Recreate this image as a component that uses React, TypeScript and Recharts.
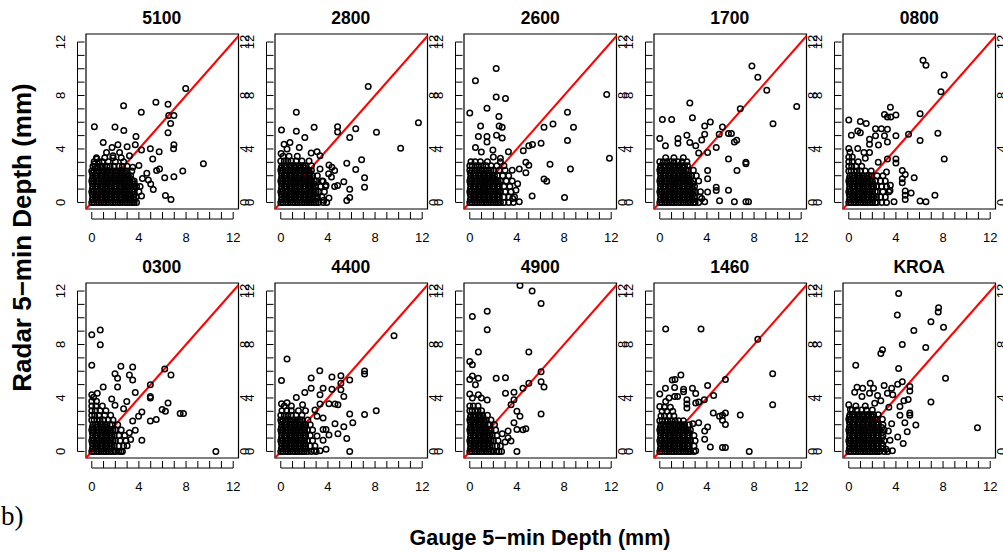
import { ScatterChart, Scatter, XAxis, YAxis, ReferenceLine, ReferenceArea } from "recharts";

type Row = [number, number[]];
type Pair = [number, number];

// dense cores are written as rows: [radar depth, gauge depths...]
const core5100: Row[] = [
  [0.0, [0, 0.2, 0.45, 0.6, 0.8, 1.05, 1.2, 1.4, 1.65, 1.8, 2, 2.25, 2.4, 2.6, 2.85, 3, 3.2, 3.45, 3.6, 3.8]],
  [0.2, [0.05, 0.4, 0.85, 1.25, 1.6, 2.05, 2.45, 2.8, 3.25, 3.6]],
  [0.4, [0.1, 0.3, 0.5, 0.75, 0.9, 1.1, 1.3, 1.55, 1.7, 1.9, 2.1, 2.35, 2.5, 2.7, 2.95, 3.1, 3.3, 3.55, 3.75]],
  [0.6, [0.05, 0.4, 0.85, 1.25, 1.6, 2.05, 2.45, 2.8, 3.25, 3.6]],
  [0.8, [0, 0.2, 0.45, 0.6, 0.8, 1.05, 1.2, 1.4, 1.65, 1.8, 2, 2.25, 2.4, 2.6, 2.85, 3, 3.2, 3.45, 3.6]],
  [1.0, [0.05, 0.4, 0.85, 1.25, 1.6, 2.05, 2.45, 2.8, 3.25, 3.6]],
  [1.2, [0.1, 0.3, 0.5, 0.75, 0.9, 1.1, 1.3, 1.55, 1.7, 1.9, 2.1, 2.35, 2.5, 2.7, 2.95, 3.1, 3.3, 3.55, 3.8]],
  [1.4, [0.05, 0.4, 0.85, 1.25, 1.6, 2.05, 2.45, 2.8, 3.25, 3.6]],
  [1.6, [0, 0.2, 0.45, 0.6, 0.8, 1.05, 1.2, 1.4, 1.65, 1.8, 2, 2.25, 2.4, 2.6, 2.85, 3, 3.2, 3.45, 3.6]],
  [1.8, [0.05, 0.4, 0.85, 1.25, 1.6, 2.05, 2.45, 2.8, 3.25]],
  [2.0, [0.1, 0.3, 0.5, 0.75, 0.9, 1.1, 1.3, 1.55, 1.7, 1.9, 2.1, 2.35, 2.5, 2.7, 2.95, 3.1, 3.3]],
  [2.2, [0.05, 0.4, 0.85, 1.25, 1.6, 2.05, 2.45, 2.8]],
  [2.35, [0, 0.2, 0.45, 0.6, 0.8, 1.05, 1.2, 1.4, 1.65, 1.8, 2, 2.25, 2.4, 2.6, 2.85, 3, 3.4]],
  [2.7, [0.1, 0.3, 0.5, 0.75, 0.9, 1.1, 1.3, 1.55, 1.9, 2.3, 2.6, 3.0]],
  [3.05, [0.2, 0.6, 0.9, 1.4, 2.0, 2.7]],
  [3.35, [0.4, 1.1, 1.8, 2.5]],
];
const spread5100: Pair[] = [
  [0.22, 5.67], [2.7, 7.24], [4.2, 6.75], [1.97, 5.64], [2.72, 5.39], [5.44, 7.5], [6.47, 7.34],
  [7.97, 8.52], [6.53, 6.5], [6.97, 6.5], [6.69, 5.9], [6.47, 5.22], [6.97, 4.31], [6.94, 4.01],
  [9.47, 2.9], [7.72, 2.36], [6.97, 1.92], [6.19, 1.85], [6.25, 0.52], [6.72, 0.22], [4.22, 0.49],
  [5.72, 3.79], [5.17, 3.25], [4.97, 4.01], [4.22, 3.92], [3.75, 4.93], [3.69, 4.31], [3.0, 4.16],
  [2.22, 4.31], [1.72, 4.11], [0.97, 4.48], [5.5, 2.39], [5.75, 2.51], [4.67, 2.19], [4.8, 1.67],
  [5.0, 1.38], [5.22, 0.96], [3.47, 2.64], [3.2, 3.5], [4.0, 2.76], [0.22, 2.88], [0.42, 3.25],
  [1.25, 3.74], [2.36, 3.74], [1.8, 3.5], [4.1, 1.2], [4.3, 1.8], [4.0, 0.8],
];

const core2800: Row[] = [
  [0.0, [0, 0.2, 0.45, 0.6, 0.8, 1.05, 1.2, 1.4, 1.65, 1.8, 2, 2.25, 2.4, 2.6, 2.85, 3, 3.2, 3.6, 3.9]],
  [0.2, [0.05, 0.4, 0.85, 1.25, 1.6, 2.05, 2.45, 2.8]],
  [0.4, [0.1, 0.3, 0.5, 0.75, 0.9, 1.1, 1.3, 1.55, 1.7, 1.9, 2.1, 2.35, 2.5, 2.7, 2.95, 3.1, 3.5]],
  [0.6, [0.05, 0.4, 0.85, 1.25, 1.6, 2.05, 2.45, 2.8]],
  [0.8, [0, 0.2, 0.45, 0.6, 0.8, 1.05, 1.2, 1.4, 1.65, 1.8, 2, 2.25, 2.4, 2.6, 2.85, 3, 3.2, 3.7]],
  [1.0, [0.05, 0.4, 0.85, 1.25, 1.6, 2.05, 2.45, 2.8]],
  [1.2, [0.1, 0.3, 0.5, 0.75, 0.9, 1.1, 1.3, 1.55, 1.7, 1.9, 2.1, 2.35, 2.5, 2.7, 2.95, 3.4, 3.8]],
  [1.4, [0.05, 0.4, 0.85, 1.25, 1.6, 2.05, 2.45, 2.8]],
  [1.6, [0, 0.2, 0.45, 0.6, 0.8, 1.05, 1.2, 1.4, 1.65, 1.8, 2, 2.25, 2.4, 2.6, 2.85, 3, 3.5]],
  [1.8, [0.05, 0.4, 0.85, 1.25, 1.6, 2.05, 2.45]],
  [2.0, [0.1, 0.3, 0.5, 0.75, 0.9, 1.1, 1.3, 1.55, 1.7, 1.9, 2.1, 2.35, 2.5, 2.7, 3.1]],
  [2.2, [0.05, 0.4, 0.85, 1.25, 1.6, 2.05, 2.45]],
  [2.4, [0, 0.2, 0.45, 0.6, 0.8, 1.05, 1.2, 1.4, 1.65, 1.8, 2, 2.25, 2.4, 2.6]],
  [2.6, [0.05, 0.4, 0.85, 1.25, 1.6, 2.05]],
  [2.75, [0.1, 0.3, 0.5, 0.75, 0.9, 1.1, 1.3, 1.55, 1.7, 1.9, 2.1, 2.6]],
  [3.1, [0, 0.3, 0.6, 0.9, 1.3, 1.8, 2.4]],
  [3.45, [0.2, 0.7, 1.4]],
];
const spread2800: Pair[] = [
  [7.42, 8.67], [11.68, 5.96], [10.17, 4.06], [8.12, 5.25], [1.32, 6.75], [0.06, 5.42], [1.32, 5.32],
  [2.83, 5.62], [2.04, 4.85], [4.82, 5.67], [4.82, 5.27], [6.36, 5.52], [5.85, 4.85], [6.86, 3.2],
  [5.6, 2.93], [6.36, 2.46], [7.11, 1.85], [7.11, 1.13], [5.85, 0.99], [5.85, 0.37], [5.6, 0.15],
  [5.35, 1.55], [4.82, 1.26], [4.57, 1.2], [4.09, 0.34], [4.09, 2.8], [4.34, 2.64], [4.57, 2.39],
  [4.06, 2.14], [0.03, 3.67], [0.28, 4.36], [0.78, 4.48], [0.53, 3.99], [1.57, 4.11], [2.58, 3.69],
  [3.08, 3.79], [3.33, 3.5], [3.33, 2.51], [3.59, 1.58], [3.84, 1.28], [3.08, 0.3], [3.64, 0.17],
  [2.38, 0.17], [4.3, 1.9],
];

const core2600: Row[] = [
  [0.0, [0, 0.2, 0.45, 0.6, 0.8, 1.05, 1.2, 1.4, 1.65, 1.8, 2, 2.25, 2.4, 2.6, 2.9, 3.3, 3.7]],
  [0.2, [0.05, 0.4, 0.85, 1.25, 1.6, 2.05, 2.45]],
  [0.4, [0.1, 0.3, 0.5, 0.75, 0.9, 1.1, 1.3, 1.55, 1.7, 1.9, 2.1, 2.35, 2.5, 2.9, 3.3, 3.8]],
  [0.6, [0.05, 0.4, 0.85, 1.25, 1.6, 2.05, 2.45]],
  [0.8, [0, 0.2, 0.45, 0.6, 0.8, 1.05, 1.2, 1.4, 1.65, 1.8, 2, 2.25, 2.4, 2.6, 3.0, 3.5]],
  [1.0, [0.05, 0.4, 0.85, 1.25, 1.6, 2.05, 2.45]],
  [1.2, [0.1, 0.3, 0.5, 0.75, 0.9, 1.1, 1.3, 1.55, 1.7, 1.9, 2.1, 2.35, 2.5, 2.9, 3.4]],
  [1.4, [0.05, 0.4, 0.85, 1.25, 1.6, 2.05, 2.45]],
  [1.6, [0, 0.2, 0.45, 0.6, 0.8, 1.05, 1.2, 1.4, 1.65, 1.8, 2, 2.25, 2.4, 2.6, 3.1, 3.6]],
  [1.8, [0.05, 0.4, 0.85, 1.25, 1.6, 2.05]],
  [2.0, [0.1, 0.3, 0.5, 0.75, 0.9, 1.1, 1.3, 1.55, 1.7, 1.9, 2.1, 2.35, 2.8, 3.3]],
  [2.2, [0.05, 0.4, 0.85, 1.25, 1.6]],
  [2.4, [0, 0.2, 0.45, 0.6, 0.8, 1.05, 1.2, 1.4, 1.65, 1.8, 2, 2.5, 3.0, 3.6]],
  [2.75, [0, 0.2, 0.5, 0.8, 1.1, 1.4, 1.8, 2.3, 2.9]],
  [3.05, [0.1, 0.45, 0.9, 1.5, 2.6]],
];
const spread2600: Pair[] = [
  [2.24, 10.02], [0.48, 9.11], [0.0, 6.7], [2.24, 7.88], [3.03, 7.78], [1.46, 7.04], [2.47, 6.43],
  [0.92, 5.71], [2.49, 5.71], [2.75, 5.62], [0.73, 4.93], [1.46, 4.93], [1.46, 4.53], [2.27, 5.02],
  [2.75, 4.83], [0.48, 4.11], [0.98, 3.77], [1.96, 3.92], [3.28, 3.79], [4.54, 3.87], [5.01, 4.24],
  [5.32, 4.33], [6.05, 4.43], [6.3, 5.62], [7.06, 5.86], [8.29, 6.75], [8.8, 5.62], [8.29, 4.63],
  [11.62, 8.08], [11.85, 3.3], [8.54, 2.51], [6.81, 2.86], [6.3, 1.75], [6.53, 1.58], [5.29, 0.49],
  [8.04, 0.37], [4.76, 3.0], [5.01, 2.78], [4.76, 2.22], [4.2, 2.5], [4.06, 1.4], [3.92, 0.91],
  [4.2, 0.05], [3.64, 0.3], [2.0, 3.4], [2.6, 3.3],
];

const core1700: Row[] = [
  [0.0, [0, 0.2, 0.45, 0.6, 0.8, 1.05, 1.2, 1.4, 1.65, 1.8, 2, 2.25, 2.4, 2.6, 2.85, 3, 3.3]],
  [0.2, [0.05, 0.4, 0.85, 1.25, 1.6, 2.05, 2.45, 2.8]],
  [0.4, [0.1, 0.3, 0.5, 0.75, 0.9, 1.1, 1.3, 1.55, 1.7, 1.9, 2.1, 2.35, 2.5, 2.7, 2.95, 3.4]],
  [0.6, [0.05, 0.4, 0.85, 1.25, 1.6, 2.05, 2.45, 2.8]],
  [0.8, [0, 0.2, 0.45, 0.6, 0.8, 1.05, 1.2, 1.4, 1.65, 1.8, 2, 2.25, 2.4, 2.6, 2.85, 3, 3.45]],
  [1.0, [0.05, 0.4, 0.85, 1.25, 1.6, 2.05, 2.45, 2.8]],
  [1.2, [0.1, 0.3, 0.5, 0.75, 0.9, 1.1, 1.3, 1.55, 1.7, 1.9, 2.1, 2.35, 2.5, 2.7, 2.95]],
  [1.4, [0.05, 0.4, 0.85, 1.25, 1.6, 2.05, 2.45, 2.8]],
  [1.6, [0, 0.2, 0.45, 0.6, 0.8, 1.05, 1.2, 1.4, 1.65, 1.8, 2, 2.25, 2.4, 2.6, 2.85, 3.3]],
  [1.8, [0.05, 0.4, 0.85, 1.25, 1.6, 2.05, 2.45]],
  [2.0, [0.1, 0.3, 0.5, 0.75, 0.9, 1.1, 1.3, 1.55, 1.7, 1.9, 2.1, 2.35, 2.5, 2.7, 3.1]],
  [2.2, [0.05, 0.4, 0.85, 1.25, 1.6, 2.05]],
  [2.4, [0, 0.2, 0.45, 0.6, 0.8, 1.05, 1.2, 1.4, 1.65, 1.8, 2, 2.25, 2.4, 2.85]],
  [2.6, [0.05, 0.4, 0.85, 1.25, 1.6, 2.05]],
  [2.75, [0.1, 0.3, 0.5, 0.75, 0.9, 1.1, 1.3, 1.55, 1.7, 1.9, 2.1, 2.35]],
  [3.05, [0, 0.3, 0.6, 0.9, 1.2, 1.55, 1.9, 2.3]],
  [3.35, [0.5, 1.2, 2.0]],
];
const spread1700: Pair[] = [
  [7.82, 10.2], [8.32, 9.36], [9.08, 8.4], [11.62, 7.17], [2.55, 7.44], [6.83, 7.0], [0.22, 6.21],
  [1.01, 6.21], [2.77, 6.33], [3.81, 5.71], [4.29, 6.01], [9.61, 5.89], [5.32, 5.64], [5.04, 5.1],
  [5.83, 5.15], [6.08, 5.15], [3.81, 5.1], [2.3, 5.02], [0.0, 4.78], [1.54, 4.78], [1.54, 4.43],
  [2.55, 4.48], [0.48, 4.24], [3.56, 4.68], [3.05, 4.24], [4.79, 4.11], [6.33, 4.53], [6.53, 4.66],
  [4.06, 3.74], [3.3, 3.69], [5.83, 3.25], [7.31, 3.0], [7.31, 2.9], [6.55, 2.39], [4.06, 2.39],
  [4.06, 1.77], [4.79, 1.13], [4.79, 0.89], [5.83, 0.91], [5.07, 0.12], [6.33, 0.05], [7.31, 0.05],
  [7.53, 0.05], [3.81, 0.05], [4.06, 0.79], [3.56, 0.3],
];

const core0800: Row[] = [
  [0.0, [0, 0.2, 0.45, 0.6, 0.8, 1.05, 1.2, 1.4, 1.65, 1.8, 2, 2.25, 2.4, 2.8, 3.2]],
  [0.2, [0.05, 0.4, 0.85, 1.25, 1.6, 2.05]],
  [0.4, [0.1, 0.3, 0.5, 0.75, 0.9, 1.1, 1.3, 1.55, 1.7, 1.9, 2.1, 2.35, 2.7, 3.1]],
  [0.6, [0.05, 0.4, 0.85, 1.25, 1.6, 2.05]],
  [0.8, [0, 0.2, 0.45, 0.6, 0.8, 1.05, 1.2, 1.4, 1.65, 1.8, 2, 2.25, 2.4, 2.9, 3.4]],
  [1.0, [0.05, 0.4, 0.85, 1.25, 1.6, 2.05]],
  [1.2, [0.1, 0.3, 0.5, 0.75, 0.9, 1.1, 1.3, 1.55, 1.7, 1.9, 2.1, 2.35, 2.8, 3.2]],
  [1.4, [0.05, 0.4, 0.85, 1.25, 1.6, 2.05]],
  [1.6, [0, 0.2, 0.45, 0.6, 0.8, 1.05, 1.2, 1.4, 1.65, 1.8, 2, 2.25, 2.7, 3.1]],
  [1.8, [0.05, 0.4, 0.85, 1.25, 1.6]],
  [2.0, [0.1, 0.3, 0.5, 0.75, 0.9, 1.1, 1.3, 1.55, 1.7, 1.9, 2.4, 2.9]],
  [2.35, [0, 0.2, 0.45, 0.7, 1.0, 1.4, 1.9]],
  [2.7, [0, 0.25, 0.6, 1.1]],
  [3.05, [0, 0.3, 0.8]],
  [3.4, [0, 0.3]],
  [3.75, [0.1]],
];
const spread0800: Pair[] = [
  [6.3, 10.64], [6.55, 10.27], [8.1, 9.53], [7.82, 8.28], [3.53, 7.12], [3.03, 6.58], [3.28, 6.4],
  [3.56, 6.4], [4.0, 6.55], [6.05, 6.63], [0.0, 6.16], [0.98, 6.06], [1.48, 5.91], [0.76, 5.34],
  [0.98, 5.22], [0.22, 5.02], [2.27, 5.52], [2.77, 5.52], [3.28, 5.47], [2.27, 4.98], [3.03, 4.98],
  [4.0, 4.98], [5.07, 5.1], [7.56, 5.17], [6.05, 4.63], [3.28, 4.53], [2.52, 4.29], [1.76, 4.73],
  [1.76, 4.36], [0.0, 4.04], [0.76, 4.04], [1.29, 3.74], [1.76, 3.74], [3.28, 3.25], [4.0, 3.25],
  [4.0, 2.96], [8.1, 3.25], [4.54, 2.39], [4.79, 2.09], [5.55, 1.85], [4.54, 1.77], [4.54, 1.48],
  [4.79, 0.86], [5.29, 0.71], [4.79, 0.54], [4.79, 0.22], [3.84, 0.05], [6.05, 0.1], [6.55, 0.05],
  [7.31, 0.54], [3.53, 1.28], [3.5, 0.9], [3.2, 2.27], [2.5, 3.0], [1.4, 3.3],
];

const core0300: Row[] = [
  [0.0, [0, 0.2, 0.45, 0.6, 0.8, 1.05, 1.2, 1.4, 1.65, 1.8, 2, 2.3, 2.6]],
  [0.2, [0.05, 0.4, 0.85, 1.25, 1.6]],
  [0.4, [0.1, 0.3, 0.5, 0.75, 0.9, 1.1, 1.3, 1.55, 1.7, 1.9, 2.3, 2.7]],
  [0.6, [0.05, 0.4, 0.85, 1.25, 1.6]],
  [0.8, [0, 0.2, 0.45, 0.6, 0.8, 1.05, 1.2, 1.4, 1.65, 1.8, 2, 2.4, 2.9]],
  [1.0, [0.05, 0.4, 0.85, 1.25, 1.6]],
  [1.2, [0.1, 0.3, 0.5, 0.75, 0.9, 1.1, 1.3, 1.55, 1.7, 1.9, 2.3, 2.8]],
  [1.4, [0.05, 0.4, 0.85, 1.25, 1.6]],
  [1.6, [0, 0.2, 0.45, 0.6, 0.8, 1.05, 1.2, 1.4, 1.65, 1.8, 2, 2.5]],
  [1.8, [0.05, 0.4, 0.85, 1.25]],
  [2.0, [0.1, 0.3, 0.5, 0.75, 0.9, 1.1, 1.3, 1.55, 1.7, 2.2]],
  [2.35, [0, 0.2, 0.45, 0.7, 1.0, 1.4, 1.8]],
  [2.7, [0, 0.25, 0.6, 1.1, 1.6]],
  [3.05, [0, 0.3, 0.7, 1.2]],
  [3.4, [0, 0.35, 0.9]],
  [3.75, [0, 0.4]],
  [4.05, [0.15]],
];
const spread0300: Pair[] = [
  [0.0, 8.72], [0.72, 9.09], [0.72, 7.98], [0.0, 6.45], [2.47, 6.38], [3.47, 6.31], [1.97, 5.81],
  [2.19, 5.47], [3.19, 5.71], [3.47, 5.34], [6.19, 6.16], [6.72, 5.71], [4.97, 4.98], [0.97, 4.83],
  [2.19, 4.83], [3.69, 4.41], [4.97, 4.11], [4.97, 3.99], [6.47, 3.62], [0.0, 4.24], [0.47, 4.36],
  [1.69, 3.92], [1.97, 3.45], [2.97, 3.74], [4.25, 2.96], [5.97, 3.13], [6.25, 3.0], [7.5, 2.83],
  [7.78, 2.83], [5.47, 2.39], [4.97, 2.27], [4.25, 0.84], [10.53, 0.0], [3.97, 2.64], [3.47, 2.27],
  [3.69, 1.58], [3.19, 1.4], [3.0, 0.42], [2.47, 0.0], [3.3, 0.9], [2.7, 3.2],
];

const core4400: Row[] = [
  [0.0, [0, 0.2, 0.45, 0.6, 0.8, 1.05, 1.2, 1.4, 1.65, 1.8, 2, 2.25, 2.6, 3.0]],
  [0.2, [0.05, 0.4, 0.85, 1.25, 1.6, 2.05]],
  [0.4, [0.1, 0.3, 0.5, 0.75, 0.9, 1.1, 1.3, 1.55, 1.7, 1.9, 2.1, 2.5, 2.9]],
  [0.6, [0.05, 0.4, 0.85, 1.25, 1.6, 2.05]],
  [0.8, [0, 0.2, 0.45, 0.6, 0.8, 1.05, 1.2, 1.4, 1.65, 1.8, 2, 2.25, 2.7]],
  [1.0, [0.05, 0.4, 0.85, 1.25, 1.6, 2.05]],
  [1.2, [0.1, 0.3, 0.5, 0.75, 0.9, 1.1, 1.3, 1.55, 1.7, 1.9, 2.1, 2.5]],
  [1.4, [0.05, 0.4, 0.85, 1.25, 1.6, 2.05]],
  [1.6, [0, 0.2, 0.45, 0.6, 0.8, 1.05, 1.2, 1.4, 1.65, 1.8, 2, 2.25, 2.7]],
  [1.8, [0.05, 0.4, 0.85, 1.25, 1.6, 2.05]],
  [2.0, [0.1, 0.3, 0.5, 0.75, 0.9, 1.1, 1.3, 1.55, 1.7, 1.9, 2.1, 2.5]],
  [2.2, [0.05, 0.4, 0.85, 1.25, 1.6]],
  [2.35, [0, 0.2, 0.45, 0.6, 0.8, 1.05, 1.2, 1.4, 1.65, 1.8, 2.3]],
  [2.7, [0, 0.3, 0.6, 0.9, 1.3, 1.8]],
  [3.05, [0.1, 0.5, 0.9, 1.5, 2.1]],
  [3.4, [0.3, 0.9]],
];
const spread4400: Pair[] = [
  [9.61, 8.65], [0.53, 6.92], [0.06, 5.3], [3.31, 6.03], [2.58, 5.49], [4.34, 5.57], [5.1, 5.67],
  [5.85, 5.34], [7.11, 6.01], [7.11, 5.79], [5.1, 5.1], [2.58, 4.73], [3.59, 4.73], [4.34, 4.66],
  [5.1, 4.61], [2.04, 4.41], [3.33, 4.24], [1.32, 4.04], [5.35, 4.11], [0.06, 3.57], [0.53, 3.65],
  [1.85, 3.5], [3.33, 3.55], [4.09, 3.57], [4.85, 3.5], [4.6, 3.55], [8.1, 3.05], [7.11, 2.76],
  [5.85, 2.81], [6.11, 2.14], [5.35, 1.85], [4.6, 2.07], [4.85, 1.33], [5.6, 0.96], [5.85, 0.0],
  [3.59, 1.65], [3.84, 1.65], [4.09, 1.23], [3.59, 0.84], [3.84, 0.17], [3.33, 0.05], [2.83, 0.05],
  [3.08, 1.16], [3.08, 2.64], [3.59, 2.51], [2.9, 3.1],
];

const core4900: Row[] = [
  [0.0, [0, 0.2, 0.45, 0.6, 0.8, 1.05, 1.2, 1.4, 1.65, 1.8, 2, 2.3, 2.7]],
  [0.2, [0.05, 0.4, 0.85, 1.25, 1.6]],
  [0.4, [0.1, 0.3, 0.5, 0.75, 0.9, 1.1, 1.3, 1.55, 1.7, 1.9, 2.3, 2.6]],
  [0.6, [0.05, 0.4, 0.85, 1.25, 1.6]],
  [0.8, [0, 0.2, 0.45, 0.6, 0.8, 1.05, 1.2, 1.4, 1.65, 1.8, 2, 2.4]],
  [1.0, [0.05, 0.4, 0.85, 1.25, 1.6]],
  [1.2, [0.1, 0.3, 0.5, 0.75, 0.9, 1.1, 1.3, 1.55, 1.7, 1.9, 2.3]],
  [1.4, [0.05, 0.4, 0.85, 1.25, 1.6]],
  [1.6, [0, 0.2, 0.45, 0.6, 0.8, 1.05, 1.2, 1.4, 1.65, 1.8, 2.2]],
  [1.8, [0.05, 0.4, 0.85, 1.25]],
  [2.0, [0.1, 0.3, 0.5, 0.75, 0.9, 1.1, 1.3, 1.55, 1.7, 2.1]],
  [2.2, [0.05, 0.4, 0.85, 1.25]],
  [2.35, [0, 0.2, 0.45, 0.6, 0.8, 1.05, 1.2, 1.4, 1.8]],
  [2.55, [0.05, 0.4, 0.85]],
  [2.7, [0.1, 0.3, 0.5, 0.75, 0.9, 1.1, 1.5]],
  [3.05, [0, 0.2, 0.45, 0.7, 1.0]],
  [3.4, [0, 0.3, 0.7]],
];
const spread4900: Pair[] = [
  [4.26, 12.41], [5.29, 12.0], [6.05, 11.06], [0.22, 10.1], [1.48, 10.49], [1.48, 9.11], [0.73, 7.44],
  [5.01, 7.44], [0.0, 6.72], [0.22, 6.48], [0.22, 5.64], [0.0, 5.39], [0.73, 5.47], [0.48, 4.98],
  [2.24, 5.47], [3.03, 5.52], [6.05, 5.96], [6.05, 5.22], [6.3, 4.83], [5.01, 5.1], [4.51, 4.73],
  [3.03, 4.36], [3.75, 4.43], [0.0, 4.29], [0.73, 4.24], [0.98, 3.99], [1.48, 3.84], [0.22, 3.99],
  [3.75, 3.87], [3.5, 3.5], [4.0, 3.0], [4.26, 2.64], [6.05, 2.81], [3.75, 2.14], [4.51, 1.63],
  [4.76, 1.7], [4.0, 1.65], [3.25, 1.53], [3.25, 1.03], [3.5, 0.79], [2.49, 0.0], [4.0, 0.0],
  [2.75, 1.33], [3.0, 0.71],
];

const core1460: Row[] = [
  [0.0, [0, 0.2, 0.45, 0.6, 0.8, 1.05, 1.2, 1.4, 1.65, 1.8, 2, 2.25, 2.4, 2.6, 2.9]],
  [0.2, [0.05, 0.4, 0.85, 1.25, 1.6, 2.05, 2.45]],
  [0.4, [0.1, 0.3, 0.5, 0.75, 0.9, 1.1, 1.3, 1.55, 1.7, 1.9, 2.1, 2.35, 2.5, 2.9]],
  [0.6, [0.05, 0.4, 0.85, 1.25, 1.6, 2.05, 2.45]],
  [0.8, [0, 0.2, 0.45, 0.6, 0.8, 1.05, 1.2, 1.4, 1.65, 1.8, 2, 2.25, 2.4, 2.6, 3.0]],
  [1.0, [0.05, 0.4, 0.85, 1.25, 1.6, 2.05, 2.45]],
  [1.2, [0.1, 0.3, 0.5, 0.75, 0.9, 1.1, 1.3, 1.55, 1.7, 1.9, 2.1, 2.35, 2.5, 2.9]],
  [1.4, [0.05, 0.4, 0.85, 1.25, 1.6, 2.05, 2.45]],
  [1.6, [0, 0.2, 0.45, 0.6, 0.8, 1.05, 1.2, 1.4, 1.65, 1.8, 2, 2.25, 2.4, 2.6]],
  [1.8, [0.05, 0.4, 0.85, 1.25, 1.6, 2.05]],
  [2.0, [0.1, 0.3, 0.5, 0.75, 0.9, 1.1, 1.3, 1.55, 1.7, 1.9, 2.1, 2.5]],
  [2.3, [0, 0.2, 0.45, 0.7, 1.0, 1.3, 1.6, 2.0]],
  [2.65, [0.1, 0.4, 0.8, 1.2]],
  [3.0, [0.2, 0.6, 1.1]],
  [3.3, [0.4, 0.9]],
];
const spread1460: Pair[] = [
  [0.5, 9.16], [3.5, 9.16], [8.32, 8.4], [9.58, 5.81], [9.58, 3.5], [1.79, 5.71], [1.06, 5.34],
  [1.29, 5.39], [0.48, 4.73], [1.26, 4.78], [2.02, 4.66], [2.02, 4.46], [0.0, 4.29], [2.77, 4.73],
  [3.05, 4.33], [4.06, 4.93], [5.57, 5.39], [4.57, 4.19], [3.78, 3.87], [3.3, 3.69], [3.05, 3.62],
  [2.3, 3.87], [2.3, 3.55], [2.3, 3.25], [0.78, 3.99], [0.5, 3.74], [0.0, 3.37], [1.26, 4.11],
  [1.51, 4.11], [4.54, 2.88], [5.07, 2.64], [5.57, 2.88], [5.32, 2.71], [6.83, 2.73], [5.32, 2.34],
  [5.57, 2.02], [4.06, 1.82], [3.81, 1.53], [3.81, 0.91], [4.29, 0.34], [5.32, 0.3], [5.57, 0.3],
  [7.59, 0.0], [3.05, 0.05], [3.3, 2.14], [2.8, 2.07],
];

const coreKROA: Row[] = [
  [0.0, [0, 0.2, 0.45, 0.6, 0.8, 1.05, 1.2, 1.4, 1.65, 1.8, 2, 2.25, 2.4, 2.6, 3.0, 3.3]],
  [0.2, [0.05, 0.4, 0.85, 1.25, 1.6, 2.05, 2.45, 2.8]],
  [0.4, [0.1, 0.3, 0.5, 0.75, 0.9, 1.1, 1.3, 1.55, 1.7, 1.9, 2.1, 2.35, 2.5, 2.9]],
  [0.6, [0.05, 0.4, 0.85, 1.25, 1.6, 2.05, 2.45, 2.8]],
  [0.8, [0, 0.2, 0.45, 0.6, 0.8, 1.05, 1.2, 1.4, 1.65, 1.8, 2, 2.25, 2.4, 2.6, 3.0]],
  [1.0, [0.05, 0.4, 0.85, 1.25, 1.6, 2.05, 2.45, 2.8]],
  [1.2, [0.1, 0.3, 0.5, 0.75, 0.9, 1.1, 1.3, 1.55, 1.7, 1.9, 2.1, 2.35, 2.5, 2.9]],
  [1.4, [0.05, 0.4, 0.85, 1.25, 1.6, 2.05, 2.45, 2.8]],
  [1.6, [0, 0.2, 0.45, 0.6, 0.8, 1.05, 1.2, 1.4, 1.65, 1.8, 2, 2.25, 2.4, 2.6, 3.0]],
  [1.8, [0.05, 0.4, 0.85, 1.25, 1.6, 2.05, 2.45, 2.8]],
  [2.0, [0.1, 0.3, 0.5, 0.75, 0.9, 1.1, 1.3, 1.55, 1.7, 1.9, 2.1, 2.35, 2.5, 2.9]],
  [2.2, [0.05, 0.4, 0.85, 1.25, 1.6, 2.05, 2.45]],
  [2.4, [0, 0.2, 0.45, 0.6, 0.8, 1.05, 1.2, 1.4, 1.65, 1.8, 2, 2.25, 2.4, 2.85]],
  [2.6, [0.05, 0.4, 0.85, 1.25, 1.6, 2.05]],
  [2.75, [0.1, 0.3, 0.5, 0.75, 0.9, 1.1, 1.3, 1.55, 1.7, 1.9, 2.1, 2.5]],
  [3.1, [0.3, 0.7, 1.1, 1.5, 2.0]],
  [3.4, [0.6, 1.4]],
];
const spreadKROA: Pair[] = [
  [4.23, 11.82], [4.12, 10.2], [7.62, 10.74], [7.59, 10.44], [6.97, 9.7], [8.04, 9.29], [5.52, 9.04],
  [4.54, 8.0], [6.53, 7.78], [2.86, 7.61], [2.72, 7.32], [0.59, 6.45], [4.23, 6.21], [8.21, 5.47],
  [6.97, 3.69], [10.92, 1.77], [1.82, 5.1], [2.1, 4.73], [3.0, 4.93], [3.64, 4.73], [4.15, 5.02],
  [4.54, 5.22], [5.18, 4.85], [5.18, 4.53], [0.7, 4.8], [1.18, 4.73], [0.5, 4.43], [1.12, 4.11],
  [1.76, 4.36], [2.44, 4.19], [3.28, 4.36], [3.73, 4.24], [2.72, 3.79], [4.68, 3.79], [5.04, 3.89],
  [4.34, 3.37], [0.0, 3.5], [0.14, 3.13], [5.18, 2.88], [5.18, 2.71], [4.34, 2.71], [4.76, 2.14],
  [5.69, 1.97], [4.96, 1.48], [4.15, 1.08], [4.62, 0.59], [3.5, 0.84], [3.7, 0.05], [3.17, 0.17],
  [3.36, 1.53], [3.64, 2.07], [3.4, 3.3], [2.2, 3.6],
];

const stations = ["5100", "2800", "2600", "1700", "0800", "0300", "4400", "4900", "1460", "KROA"];
const cores = [core5100, core2800, core2600, core1700, core0800, core0300, core4400, core4900, core1460, coreKROA];
const spreads = [spread5100, spread2800, spread2600, spread1700, spread0800, spread0300, spread4400, spread4900, spread1460, spreadKROA];

const axisTicks = [0, 1, 2, 3, 4, 5, 6, 7, 8, 9, 10, 11, 12];
const labelledTicks = [0, 4, 8, 12];

const X_DOMAIN: [number, number] = [-0.49, 12.45];
const Y_DOMAIN: [number, number] = [-0.49, 12.6];

const BOX_W = 152.5;
const BOX_H = 175;
const BOX_LEFTS = [85.5, 274.5, 464, 653.5, 843];
const BOX_TOPS = [34, 282.5];
const M_LEFT = 45;
const M_RIGHT = 25;
const M_TOP = 10;
const M_BOTTOM = 45;

const FONT = "'Liberation Sans', Arial, Helvetica, sans-serif";

function toPoints(core: Row[], spread: Pair[]) {
  const pts = core.flatMap(([y, xs]) => xs.map((x) => ({ x, y })));
  return pts.concat(spread.map(([x, y]) => ({ x, y })));
}

const Ring = (props: any) => {
  const { cx, cy } = props;
  if (cx == null || cy == null) return null;
  return <circle cx={cx} cy={cy} r={2.75} fill="none" stroke="#000" strokeWidth={1.5} />;
};

const BottomTick = (props: any) => {
  const { x, y, payload } = props;
  const v = payload.value;
  return (
    <g>
      <line x1={x} x2={x} y1={y + 3} y2={y + 10} stroke="#000" strokeWidth={1} />
      {labelledTicks.includes(v) && (
        <text x={x} y={y + 33} textAnchor="middle" fontSize={13} fontFamily={FONT} fill="#000">
          {v}
        </text>
      )}
    </g>
  );
};

const LeftTick = (props: any) => {
  const { x, y, payload } = props;
  const v = payload.value;
  const lx = x - 25.5;
  return (
    <g>
      <line x1={x - 8.5} x2={x - 1.5} y1={y} y2={y} stroke="#000" strokeWidth={1} />
      {labelledTicks.includes(v) && (
        <text
          x={lx}
          y={y}
          transform={`rotate(-90 ${lx} ${y})`}
          textAnchor="middle"
          dominantBaseline="central"
          fontSize={13}
          fontFamily={FONT}
          fill="#000"
        >
          {v}
        </text>
      )}
    </g>
  );
};

const RightTick = (props: any) => {
  const { x, y, payload } = props;
  const v = payload.value;
  if (!labelledTicks.includes(v)) return <g />;
  const lx = x + 6;
  return (
    <text
      x={lx}
      y={y}
      transform={`rotate(-90 ${lx} ${y})`}
      textAnchor="middle"
      dominantBaseline="central"
      fontSize={13}
      fontFamily={FONT}
      fill="#000"
    >
      {v}
    </text>
  );
};

function Panel({ index }: { index: number }) {
  const col = index % 5;
  const row = Math.floor(index / 5);
  const left = BOX_LEFTS[col];
  const top = BOX_TOPS[row];
  const data = toPoints(cores[index], spreads[index]);
  const xAxisY = Y_DOMAIN[0] - 0.75;
  const yAxisX = X_DOMAIN[0] - 0.72;

  return (
    <div style={{ position: "absolute", left: left - M_LEFT, top: top - M_TOP }}>
      <ScatterChart
        width={BOX_W + M_LEFT + M_RIGHT}
        height={BOX_H + M_TOP + M_BOTTOM}
        margin={{ top: M_TOP, right: 5, bottom: 5, left: 10 }}
      >
        <XAxis
          type="number"
          dataKey="x"
          domain={X_DOMAIN}
          allowDataOverflow
          ticks={axisTicks}
          interval={0}
          tickSize={0}
          tickMargin={0}
          tickLine={false}
          axisLine={false}
          tick={BottomTick}
          height={M_BOTTOM - 5}
        />
        <YAxis
          yAxisId="left"
          type="number"
          dataKey="y"
          domain={Y_DOMAIN}
          allowDataOverflow
          ticks={axisTicks}
          interval={0}
          tickSize={0}
          tickMargin={0}
          tickLine={false}
          axisLine={false}
          tick={LeftTick}
          width={M_LEFT - 10}
        />
        <YAxis
          yAxisId="right"
          orientation="right"
          type="number"
          dataKey="y"
          domain={Y_DOMAIN}
          allowDataOverflow
          ticks={axisTicks}
          interval={0}
          tickSize={0}
          tickMargin={0}
          tickLine={false}
          axisLine={false}
          tick={RightTick}
          width={M_RIGHT - 5}
        />
        <Scatter yAxisId="left" data={data} shape={Ring} isAnimationActive={false} />
        <ReferenceArea
          yAxisId="left"
          x1={X_DOMAIN[0]}
          x2={X_DOMAIN[1]}
          y1={Y_DOMAIN[0]}
          y2={Y_DOMAIN[1]}
          fill="none"
          fillOpacity={0}
          stroke="#000"
          strokeWidth={1.2}
          ifOverflow="visible"
        />
        <ReferenceLine
          yAxisId="left"
          segment={[
            { x: 0, y: xAxisY },
            { x: 12, y: xAxisY },
          ]}
          stroke="#000"
          strokeWidth={1}
          ifOverflow="visible"
        />
        <ReferenceLine
          yAxisId="left"
          segment={[
            { x: yAxisX, y: 0 },
            { x: yAxisX, y: 12 },
          ]}
          stroke="#000"
          strokeWidth={1}
          ifOverflow="visible"
        />
        <ReferenceLine
          yAxisId="left"
          segment={[
            { x: X_DOMAIN[0], y: X_DOMAIN[0] },
            { x: X_DOMAIN[1], y: X_DOMAIN[1] },
          ]}
          stroke="#ff0000"
          strokeWidth={2}
          ifOverflow="visible"
        />
      </ScatterChart>
    </div>
  );
}

export default function App() {
  return (
    <div
      style={{
        position: "absolute",
        left: 0,
        top: 0,
        width: 1003,
        height: 552,
        background: "#fff",
        overflow: "hidden",
      }}
    >
      <svg width={1003} height={552} style={{ position: "absolute", left: 0, top: 0 }}>
        {stations.map((name, i) => (
          <text
            key={name}
            x={BOX_LEFTS[i % 5] + BOX_W / 2}
            y={BOX_TOPS[Math.floor(i / 5)] - 10}
            textAnchor="middle"
            fontSize={17.5}
            fontWeight="bold"
            fontFamily={FONT}
            fill="#000"
          >
            {name}
          </text>
        ))}
        <text
          x={22}
          y={237.5}
          transform="rotate(-90 22 237.5)"
          textAnchor="middle"
          dominantBaseline="central"
          fontSize={26}
          fontWeight="bold"
          fontFamily={FONT}
          fill="#000"
        >
          Radar 5−min Depth (mm)
        </text>
        <text
          x={540}
          y={545}
          textAnchor="middle"
          fontSize={21.5}
          fontWeight="bold"
          fontFamily={FONT}
          fill="#000"
        >
          Gauge 5−min Depth (mm)
        </text>
        <text x={1} y={525} fontSize={27} fontFamily="'Liberation Serif', 'DejaVu Serif', serif" fill="#000">
          b)
        </text>
      </svg>
      {stations.map((name, i) => (
        <Panel key={name} index={i} />
      ))}
    </div>
  );
}
